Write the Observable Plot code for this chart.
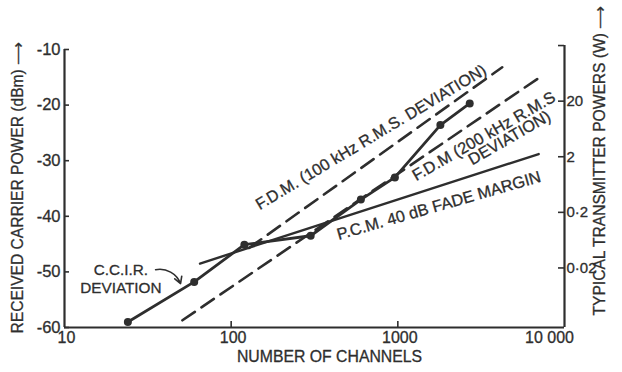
<!DOCTYPE html>
<html><head><meta charset="utf-8">
<script src="https://cdn.jsdelivr.net/npm/d3@7"></script>
<script src="https://cdn.jsdelivr.net/npm/@observablehq/plot@0.6"></script>
<style>
html,body{margin:0;padding:0;background:#fff;}
</style>
</head><body><div id="chart"></div>
<script>
// C.C.I.R. deviation curve (channels vs received carrier power, dBm)
const ccirChannels = [24, 60, 120, 300, 600, 960, 1800, 2700];
const ccirPower = [-59, -51.8, -45.1, -43.5, -37, -33, -23.6, -19.7];
// F.D.M. 100 kHz r.m.s. deviation (dashed)
const fdm100Channels = [128, 4230];
const fdm100Power = [-45.7, -13.2];
// F.D.M. 200 kHz r.m.s. deviation (dashed)
const fdm200Channels = [51, 7350];
const fdm200Power = [-58.7, -14.7];
// P.C.M. 40 dB fade margin
const pcmChannels = [65, 7000];
const pcmPower = [-48.5, -28.8];

const xTicks = [10, 100, 1000];
const xTickLabels = ["10", "100", "1000"];
const xLastTick = [10000];
const xLastTickLabel = ["10 000"];
const yTicks = [-10, -20, -30, -40, -50, -60];
const wattTicks = [20, 2, 0.2, 0.02];
const wattTickLabels = ["20", "2", "0·2", "0·02"];
const wattTop = [200];

const xTitle = "NUMBER OF CHANNELS";
const yTitle = "RECEIVED CARRIER POWER (dBm) ⟶";
const y2Title = "TYPICAL TRANSMITTER POWERS (W) ⟶";

// secondary (transmitter power) axis expressed on the dBm scale
const wToDbm = w => 10 * Math.log10(w) - 32.3;

const ink = "#2e2e2e";
const pts = (xs, ys) => xs.map((x, i) => ({x, y: ys[i]}));
const heavy = {fill: ink, stroke: ink, strokeWidth: 0.3};

const chart = Plot.plot({
  width: 622, height: 372,
  marginLeft: 64, marginRight: 58, marginTop: 49, marginBottom: 45,
  x: {type: "log", domain: [10, 10000], axis: null},
  y: {domain: [-60, -10], axis: null},
  style: {fontFamily: "'Liberation Sans', Arial, sans-serif", fontSize: "16px", color: ink, background: "#fff"},
  marks: [
    // frame
    Plot.ruleX([10], {y1: -60, y2: -10, stroke: ink, strokeWidth: 2.2}),
    Plot.ruleX(xLastTick, {y1: -60, y2: wToDbm(wattTop[0]), stroke: ink, strokeWidth: 2.2}),
    Plot.ruleY([-60], {stroke: ink, strokeWidth: 2.2}),
    // inward ticks
    Plot.tickY(yTicks, {y: d => d, insetRight: 495, stroke: ink, strokeWidth: 1.6}),
    Plot.tickY(wattTicks.concat(wattTop), {y: d => wToDbm(d), insetLeft: 494, stroke: ink, strokeWidth: 1.6}),
    Plot.tickX(xTicks.slice(1), {x: d => d, insetTop: 272, stroke: ink, strokeWidth: 1.6}),
    // tick labels
    Plot.text(yTicks, {y: d => d, text: d => String(d), frameAnchor: "left", textAnchor: "end", dx: -4, fontSize: 16.5, ...heavy}),
    Plot.text(wattTicks, {y: d => wToDbm(d), text: (d, i) => wattTickLabels[i], frameAnchor: "right", textAnchor: "start", dx: 2, fontSize: 15, ...heavy}),
    Plot.text(xTicks, {x: d => d, text: (d, i) => xTickLabels[i], frameAnchor: "bottom", dy: 15, dx: 2, fontSize: 16, ...heavy}),
    Plot.text(xLastTick, {x: d => d, text: (d, i) => xLastTickLabel[i], frameAnchor: "bottom", dy: 15, dx: -15, fontSize: 16, ...heavy}),
    // axis titles
    Plot.text([xTitle], {frameAnchor: "bottom", dx: 15, dy: 34, fontSize: 15.8, ...heavy}),
    Plot.text([yTitle], {frameAnchor: "bottom-left", rotate: -90, textAnchor: "start", dx: -42, dy: 6, fontSize: 15.6, ...heavy}),
    Plot.text([y2Title], {frameAnchor: "bottom-right", rotate: -90, textAnchor: "start", dx: 40, dy: -12, fontSize: 15.6, ...heavy}),
    // series
    Plot.line(pts(fdm100Channels, fdm100Power), {x: "x", y: "y", stroke: ink, strokeWidth: 2.6, strokeDasharray: "15,8"}),
    Plot.line(pts(fdm200Channels, fdm200Power), {x: "x", y: "y", stroke: ink, strokeWidth: 2.6, strokeDasharray: "15,8"}),
    Plot.line(pts(pcmChannels, pcmPower), {x: "x", y: "y", stroke: ink, strokeWidth: 2.4}),
    Plot.line(pts(ccirChannels, ccirPower), {x: "x", y: "y", stroke: ink, strokeWidth: 2.8}),
    Plot.dot(pts(ccirChannels, ccirPower), {x: "x", y: "y", r: 4, fill: ink}),
    // annotations
    Plot.text(["F.D.M. (100 kHz R.M.S. DEVIATION)"], {x: 690, y: -25.8, rotate: -31, fontSize: 16.2, ...heavy}),
    Plot.text(["F.D.M (200 kHz R.M.S"], {x: 3281, y: -25.6, rotate: -30, fontSize: 16.3, ...heavy}),
    Plot.text(["DEVIATION)"], {x: 4677, y: -25.9, rotate: -30, fontSize: 16.3, ...heavy}),
    Plot.text(["P.C.M. 40 dB FADE MARGIN"], {x: 1762, y: -38.1, rotate: -16, fontSize: 16.3, ...heavy}),
    Plot.text(["C.C.I.R.\nDEVIATION"], {x: 21.8, y: -51.1, fontSize: 15.3, lineHeight: 1.18, ...heavy}),
    Plot.arrow([0], {x1: 35.2, y1: -49.6, x2: 49.7, y2: -52.1, bend: 40, headLength: 7, stroke: ink, strokeWidth: 1.6})
  ]
});
document.getElementById("chart").appendChild(chart);
</script>
</body></html>
